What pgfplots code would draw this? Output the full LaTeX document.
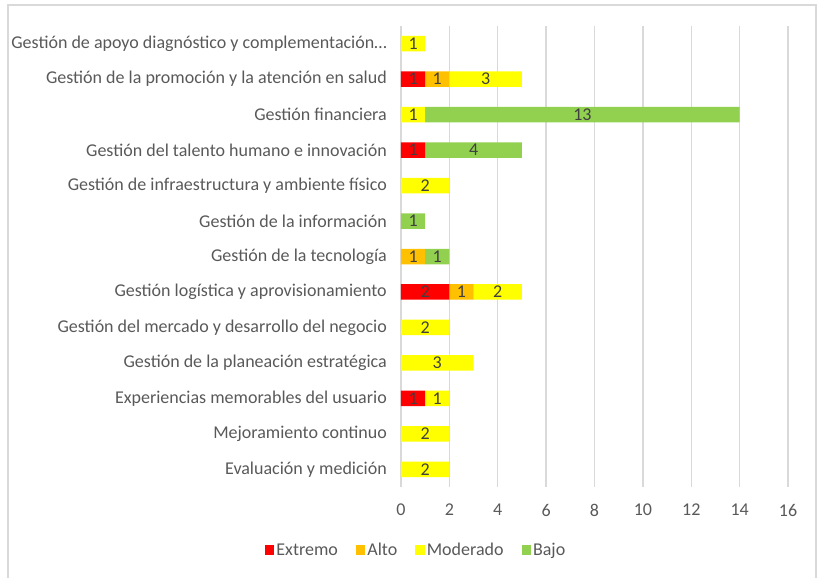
\documentclass[border=0pt]{standalone}
\usepackage{pgfplots}
\pgfplotsset{compat=1.18}
\usepackage{pgfplotstable}
\usepackage{fontspec}
\setmainfont{Carlito}
\definecolor{txt}{HTML}{595959}
\definecolor{lbl}{HTML}{404040}
\definecolor{gridc}{HTML}{D9D9D9}
\definecolor{cE}{HTML}{FF0000}
\definecolor{cA}{HTML}{FFC000}
\definecolor{cM}{HTML}{FFFF00}
\definecolor{cB}{HTML}{92D050}
\pgfplotstableread{
c E A M B
0 0 0 1 0
1 1 1 3 0
2 0 0 1 13
3 1 0 0 4
4 0 0 2 0
5 0 0 0 1
6 0 1 0 1
7 2 1 2 0
8 0 0 2 0
9 0 0 3 0
10 1 0 1 0
11 0 0 2 0
12 0 0 2 0
}\data
\begin{document}
\begin{tikzpicture}
\useasboundingbox (0pt,0pt) rectangle (817pt,578pt);
\draw[gridc, line width=1.2pt] (8pt,-10pt) -- (8pt,573pt) -- (816pt,573pt) -- (816pt,-10pt);
\begin{axis}[
  at={(401pt,91pt)}, anchor=south west,
  width=387pt, height=461pt, scale only axis,
  xbar stacked, bar width=15.5pt,
  xmin=0, xmax=16, xtick={0,2,4,6,8,10,12,14,16},
  ymin=-0.5, ymax=12.5, y dir=reverse,
  ytick={0,1,2,3,4,5,6,7,8,9,10,11,12},
  yticklabels={
    {Gestión de apoyo diagnóstico y complementación…},
    {Gestión de la promoción y la atención en salud},
    {Gestión financiera},
    {Gestión del talento humano e innovación},
    {Gestión de infraestructura y ambiente físico},
    {Gestión de la información},
    {Gestión de la tecnología},
    {Gestión logística y aprovisionamiento},
    {Gestión del mercado y desarrollo del negocio},
    {Gestión de la planeación estratégica},
    {Experiencias memorables del usuario},
    {Mejoramiento continuo},
    {Evaluación y medición}},
  axis line style={draw=none},
  major tick length=0pt,
  xmajorgrids, grid style={gridc, line width=1.3pt},
  /pgf/number format/assume math mode=true,
  xticklabel style={font=\fontsize{18pt}{20pt}\selectfont, text=txt, anchor=north, inner sep=0pt, yshift=-17pt},
  yticklabel style={font=\fontsize{18pt}{20pt}\selectfont, text=txt, anchor=east, inner sep=0pt, xshift=-14pt},
  point meta=explicit,
  nodes near coords={\pgfmathfloatifflags{\pgfplotspointmeta}{0}{}{\pgfmathprintnumber{\pgfplotspointmeta}}},
  every node near coord/.append style={anchor=center, font=\fontsize{18pt}{20pt}\selectfont, text=lbl, inner sep=0pt},
  legend style={at={(0.039,-0.137)}, anchor=center, draw=none, legend columns=4,
    font=\fontsize{18pt}{20pt}\selectfont, text=txt, inner sep=0pt,
    /tikz/every even column/.append style={column sep=16pt}},
  legend image code/.code={\fill[#1] (2pt,-5pt) rectangle (11.5pt,5pt);},
  legend cell align=left,
]
\addplot[fill=cE, draw=none] table[y=c, x=E, meta=E] \data;
\addplot[fill=cA, draw=none] table[y=c, x=A, meta=A] \data;
\addplot[fill=cM, draw=none] table[y=c, x=M, meta=M] \data;
\addplot[fill=cB, draw=none] table[y=c, x=B, meta=B] \data;
\legend{Extremo, Alto, Moderado, Bajo}
\end{axis}
\end{tikzpicture}
\end{document}
